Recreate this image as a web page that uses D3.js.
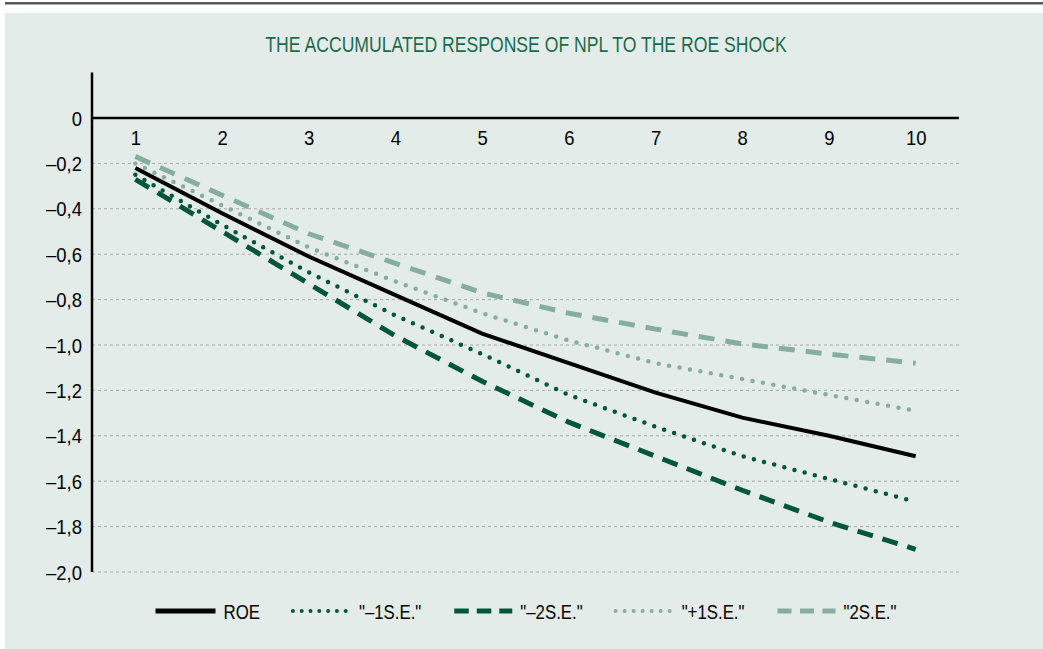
<!DOCTYPE html>
<html>
<head>
<meta charset="utf-8">
<script src="https://cdn.jsdelivr.net/npm/d3@7"></script>
<style>
  body { margin: 0; background: #fff; }
  text { font-family: "Liberation Sans", Arial, sans-serif; }
</style>
</head>
<body>
<div id="chart"></div>
<script>
// periods after the shock
const periods = [1, 2, 3, 4, 5, 6, 7, 8, 9, 10];
const yTicks = [0, -0.2, -0.4, -0.6, -0.8, -1.0, -1.2, -1.4, -1.6, -1.8, -2.0];

const roe      = [-0.22, -0.42, -0.61, -0.78, -0.95, -1.08, -1.21, -1.32, -1.40, -1.49];
const minus1se = [-0.25, -0.47, -0.68, -0.87, -1.04, -1.22, -1.36, -1.49, -1.59, -1.69];
const minus2se = [-0.27, -0.50, -0.73, -0.96, -1.16, -1.34, -1.49, -1.64, -1.78, -1.90];
const plus1se  = [-0.20, -0.385, -0.57, -0.72, -0.86, -0.98, -1.08, -1.15, -1.22, -1.29];
const plus2se  = [-0.17, -0.34, -0.51, -0.64, -0.77, -0.86, -0.93, -0.995, -1.04, -1.08];

const seriesNames = ["ROE", "\"–1S.E.\"", "\"–2S.E.\"", "\"+1S.E.\"", "\"2S.E.\""];

const darkGreen = "#005737", lightGreen = "#86ae9f";
const styles = [
    {color: "#000", width: 4, dash: null, cap: "butt", legDash: null},
    {color: darkGreen, width: 4.5, dash: "0 10.5", cap: "round", legDash: "0 8.8"},
    {color: darkGreen, width: 5, dash: "16 10", cap: "butt", legDash: "14.5 8"},
    {color: lightGreen, width: 4.5, dash: "0 10.6", cap: "round", legDash: "0 9"},
    {color: lightGreen, width: 5, dash: "16 11", cap: "butt", legDash: "14 8.5"}
];
const series = [roe, minus1se, minus2se, plus1se, plus2se];

const W = 1043, H = 649;
const plotL = 92, plotR = 959, plotT = 118, plotB = 572;

// no condensed font installed: squeeze the glyphs instead
function condense(sel, k) {
    sel.each(function() {
        const len = this.getComputedTextLength();
        d3.select(this)
            .attr("textLength", len * k)
            .attr("lengthAdjust", "spacingAndGlyphs");
    });
}

const svg = d3.select("#chart").append("svg")
    .attr("width", W)
    .attr("height", H);

// background
svg.append("rect").attr("x", 5).attr("y", 2).attr("width", W - 5).attr("height", 2.5).attr("fill", "#595959");
svg.append("rect").attr("x", 5).attr("y", 13).attr("width", W - 5).attr("height", H - 13).attr("fill", "#e4ece9");

svg.append("text")
    .attr("x", 526).attr("y", 52)
    .attr("text-anchor", "middle")
    .attr("fill", "#1b6b4c")
    .style("font-size", "22px")
    .text("THE ACCUMULATED RESPONSE OF NPL TO THE ROE SHOCK")
    .call(condense, 0.8);

const x = d3.scalePoint()
    .domain(periods)
    .range([plotL, plotR])
    .padding(0.5);

const y = d3.scaleLinear()
    .domain([-2, 0])
    .range([plotB, plotT]);

// gridlines
svg.append("g")
    .selectAll("line")
    .data(yTicks.filter(d => d !== 0))
    .enter().append("line")
    .attr("x1", plotL).attr("x2", plotR)
    .attr("y1", d => y(d)).attr("y2", d => y(d))
    .attr("stroke", "#a8a8a8")
    .attr("stroke-width", 1)
    .attr("stroke-dasharray", "3,3");

// y labels
svg.append("g")
    .selectAll("text")
    .data(yTicks)
    .enter().append("text")
    .attr("x", 82)
    .attr("y", d => y(d))
    .attr("dy", "0.36em")
    .attr("text-anchor", "end")
    .style("font-size", "21px")
    .text(d => d === 0 ? "0" : "–" + d3.format(".1f")(-d).replace(".", ","))
    .call(condense, 0.88);

// zero line with period labels
const xAxis = svg.append("g")
    .attr("transform", `translate(0,${y(0)})`)
    .call(d3.axisBottom(x).tickSize(0).tickPadding(12));
xAxis.select(".domain").attr("stroke", "#000").attr("stroke-width", 2.5).attr("d", `M${plotL},0H${plotR}`);
xAxis.selectAll("text")
    .attr("fill", "#000")
    .style("font-size", "21px")
    .style("font-family", "'Liberation Sans', sans-serif")
    .call(condense, 0.88);

// vertical axis
svg.append("line")
    .attr("x1", plotL).attr("x2", plotL)
    .attr("y1", y(0.2)).attr("y2", plotB)
    .attr("stroke", "#000")
    .attr("stroke-width", 2.5);

const line = d3.line()
    .x((d, i) => x(periods[i]))
    .y(d => y(d));

// draw lower-priority series first, ROE on top
[4, 3, 2, 1, 0].forEach(function(k) {
    const s = styles[k];
    svg.append("path")
        .datum(series[k])
        .attr("d", line)
        .attr("fill", "none")
        .attr("stroke", s.color)
        .attr("stroke-width", s.width)
        .attr("stroke-linecap", s.cap)
        .attr("stroke-dasharray", s.dash);
});

// legend
const legend = svg.append("g").attr("id", "legend");
const symLen = 60, legY = 611, legGap = 31;
let cx = 0;
seriesNames.forEach(function(name, k) {
    const s = styles[k];
    const g = legend.append("g").attr("transform", `translate(${cx},0)`);
    g.append("line")
        .attr("x1", k === 0 ? 0 : 2).attr("x2", symLen)
        .attr("y1", legY).attr("y2", legY)
        .attr("stroke", s.color)
        .attr("stroke-width", k === 0 ? 5 : (s.cap === "round" ? 4 : 5))
        .attr("stroke-linecap", s.cap)
        .attr("stroke-dasharray", s.legDash);
    const t = g.append("text")
        .attr("x", symLen + 8)
        .attr("y", legY)
        .attr("dy", "0.36em")
        .style("font-size", "21px")
        .text(name)
        .call(condense, 0.8);
    cx += symLen + 8 + (+t.attr("textLength")) + legGap;
});
const legW = cx - legGap;
legend.attr("transform", `translate(${526 - legW / 2},0)`);
</script>
</body>
</html>
